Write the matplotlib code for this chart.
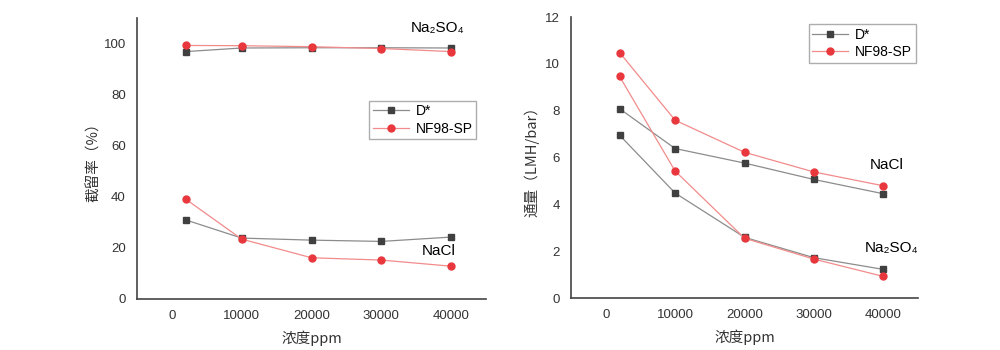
import matplotlib
matplotlib.use("Agg")
import matplotlib.pyplot as plt

plt.rcParams["font.family"] = ["Liberation Sans", "DejaVu Sans", "Noto Sans CJK SC"]

conc = [2000, 10000, 20000, 30000, 40000]
xticks = [0, 10000, 20000, 30000, 40000]

# rejection (%)
rej_d_na2so4 = [96.8, 98.2, 98.3, 98.3, 98.2]
rej_nf_na2so4 = [99.2, 99.1, 98.7, 98.0, 96.8]
rej_d_nacl = [30.9, 23.8, 23.0, 22.5, 24.2]
rej_nf_nacl = [39.0, 23.4, 16.1, 15.2, 12.8]

# flux (LMH/bar)
flux_d_nacl = [8.09, 6.39, 5.77, 5.07, 4.46]
flux_nf_nacl = [10.49, 7.60, 6.23, 5.39, 4.80]
flux_d_na2so4 = [6.96, 4.49, 2.60, 1.73, 1.23]
flux_nf_na2so4 = [9.47, 5.43, 2.56, 1.67, 0.93]

D_LINE, D_MARK = "#8c8c8c", "#404040"
NF_LINE, NF_MARK = "#f28b8b", "#e8383d"
TXT = "#333333"
CJK = ["Noto Sans CJK SC", "DejaVu Sans"]

fig = plt.figure(figsize=(10, 3.5), dpi=100)
ax1 = fig.add_axes([0.137, 0.146, 0.349, 0.803])
ax2 = fig.add_axes([0.571, 0.148, 0.347, 0.803])


def series(ax, y, kind, label=None):
    if kind == "d":
        ax.plot(conc, y, "-", color=D_LINE, lw=0.9, marker="s", ms=4.2,
                mfc=D_MARK, mec=D_MARK, label=label)
    else:
        ax.plot(conc, y, "-", color=NF_LINE, lw=0.9, marker="o", ms=5,
                mfc=NF_MARK, mec=NF_MARK, label=label)


def style(ax, ylim, yticks):
    ax.set_xlim(-5000, 45000)
    ax.set_ylim(*ylim)
    ax.set_xticks(xticks)
    ax.set_yticks(yticks)
    for s in ("top", "right"):
        ax.spines[s].set_visible(False)
    for s in ("left", "bottom"):
        ax.spines[s].set_color("#444444")
        ax.spines[s].set_linewidth(1.2)
    ax.tick_params(length=0, labelsize=9.5, colors=TXT, pad=8)
    ax.set_xlabel("浓度ppm", family=CJK, fontsize=10.5, color=TXT, labelpad=6)


# left: rejection
series(ax1, rej_d_na2so4, "d", "D*")
series(ax1, rej_nf_na2so4, "nf", "NF98-SP")
series(ax1, rej_d_nacl, "d")
series(ax1, rej_nf_nacl, "nf")
style(ax1, (0, 110), [0, 20, 40, 60, 80, 100])
ax1.set_ylabel("截留率（%）", family=CJK, fontsize=10.5, color=TXT, labelpad=2)
ax1.text(0.86, 0.965, "Na₂SO₄", transform=ax1.transAxes, ha="center", va="center", fontsize=11)
ax1.text(0.865, 0.17, "NaCl", transform=ax1.transAxes, ha="center", va="center", fontsize=11)
leg = ax1.legend(loc="upper left", bbox_to_anchor=(0.645, 0.73), fontsize=10,
                 frameon=True, fancybox=False, edgecolor="#999999",
                 handlelength=2.6, borderpad=0.25, labelspacing=0.25, handletextpad=0.5)
leg.get_frame().set_linewidth(1.0)

# right: flux
series(ax2, flux_d_nacl, "d", "D*")
series(ax2, flux_nf_nacl, "nf", "NF98-SP")
series(ax2, flux_d_na2so4, "d")
series(ax2, flux_nf_na2so4, "nf")
style(ax2, (0, 12), [0, 2, 4, 6, 8, 10, 12])
ax2.set_ylabel("通量（LMH/bar）", family=CJK, fontsize=10.5, color=TXT, labelpad=4)
ax2.text(0.91, 0.475, "NaCl", transform=ax2.transAxes, ha="center", va="center", fontsize=11)
ax2.text(0.925, 0.18, "Na₂SO₄", transform=ax2.transAxes, ha="center", va="center", fontsize=11)
leg2 = ax2.legend(loc="upper left", bbox_to_anchor=(0.665, 1.0), fontsize=10,
                  frameon=True, fancybox=False, edgecolor="#999999",
                  handlelength=2.6, borderpad=0.25, labelspacing=0.25, handletextpad=0.5)
leg2.get_frame().set_linewidth(1.0)

fig.savefig("out.png", dpi=100)
